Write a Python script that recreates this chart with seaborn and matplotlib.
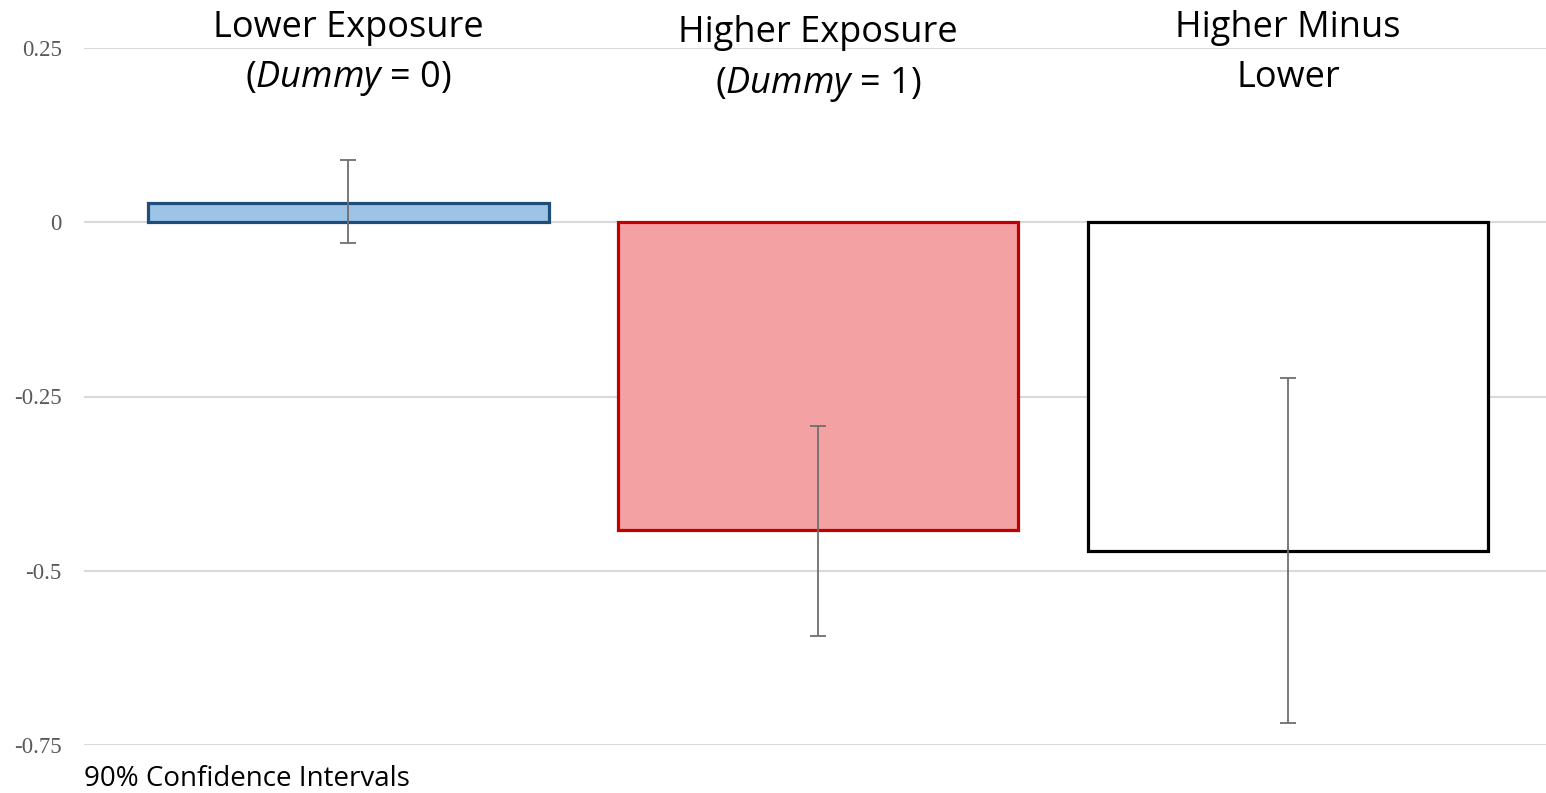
import matplotlib
matplotlib.use("Agg")
import matplotlib.pyplot as plt
import matplotlib.transforms as mtransforms
import seaborn as sns
import pandas as pd

# ---- data ----
categories = ["Lower", "Higher", "Diff"]
values = [0.027, -0.441, -0.471]
ci_low = [-0.030, -0.593, -0.718]
ci_high = [0.089, -0.292, -0.224]
title_line1 = ["Lower Exposure", "Higher Exposure", "Higher Minus"]
title_line2 = [r"($\mathit{Dummy}$ = 0)", r"($\mathit{Dummy}$ = $\mathit{1}$)", "Lower"]
yticks = [0.25, 0, -0.25, -0.5, -0.75]
ytick_labels = ["0.25", "0", "-0.25", "-0.5", "-0.75"]
footnote = "90% Confidence Intervals"

fill_colors = ["#9DC3E6", "#F4A1A4", "#FFFFFF"]
edge_colors = ["#1F4E79", "#C00000", "#000000"]

sns.set_theme(style="white")
plt.rcParams["font.family"] = ["Open Sans", "DejaVu Sans"]
plt.rcParams["mathtext.fontset"] = "custom"
plt.rcParams["mathtext.rm"] = "Open Sans"
plt.rcParams["mathtext.it"] = "Open Sans:italic"

fig = plt.figure(figsize=(15.46, 7.93), dpi=100)
ax = fig.add_axes([84 / 1546, 1 - 745 / 793, 1 - 84 / 1546, (745 - 48) / 793])

df = pd.DataFrame({"cat": categories, "val": values})
sns.barplot(data=df, x="cat", y="val", hue="cat", palette=fill_colors,
            width=0.853, legend=False, ax=ax, saturation=1)

for patch, ec in zip(ax.patches, edge_colors):
    patch.set_edgecolor(ec)
    patch.set_linewidth(2.3)
    patch.set_zorder(3)

xs = list(range(len(categories)))
yerr = [[v - lo for v, lo in zip(values, ci_low)], [hi - v for v, hi in zip(values, ci_high)]]
ax.errorbar(xs, values, yerr=yerr, fmt="none", ecolor="#6E6E6E", elinewidth=1.3,
            capsize=6, capthick=1.3, zorder=4)

ax.set_ylim(-0.75, 0.25)
ax.set_xlim(-0.562, 2.549)
ax.set_yticks(yticks)
ax.set_yticklabels(ytick_labels, fontfamily="Liberation Serif", fontsize=16.5, color="#595959")
ax.tick_params(axis="y", length=0, pad=16)
ax.set_xticks([])
ax.set_xlabel("")
ax.set_ylabel("")
ax.yaxis.grid(True, color="#D9D9D9", linewidth=1.5, zorder=0)
ax.set_axisbelow(True)
for s in ax.spines.values():
    s.set_visible(False)

trans = mtransforms.blended_transform_factory(ax.transData, fig.transFigure)
y1 = [28, 33, 28]
y2 = [78, 85, 78]
for x, t1, t2, a, b in zip(xs, title_line1, title_line2, y1, y2):
    ax.text(x, 1 - a / 793, t1, transform=trans, ha="center", va="center",
            fontsize=26, color="black", clip_on=False)
    ax.text(x, 1 - b / 793, t2, transform=trans, ha="center", va="center",
            fontsize=26, color="black", clip_on=False)

fig.text(84 / 1546, 1 - 779 / 793, footnote, ha="left", va="center", fontsize=20, color="black")

fig.savefig("out.png", dpi=100)
